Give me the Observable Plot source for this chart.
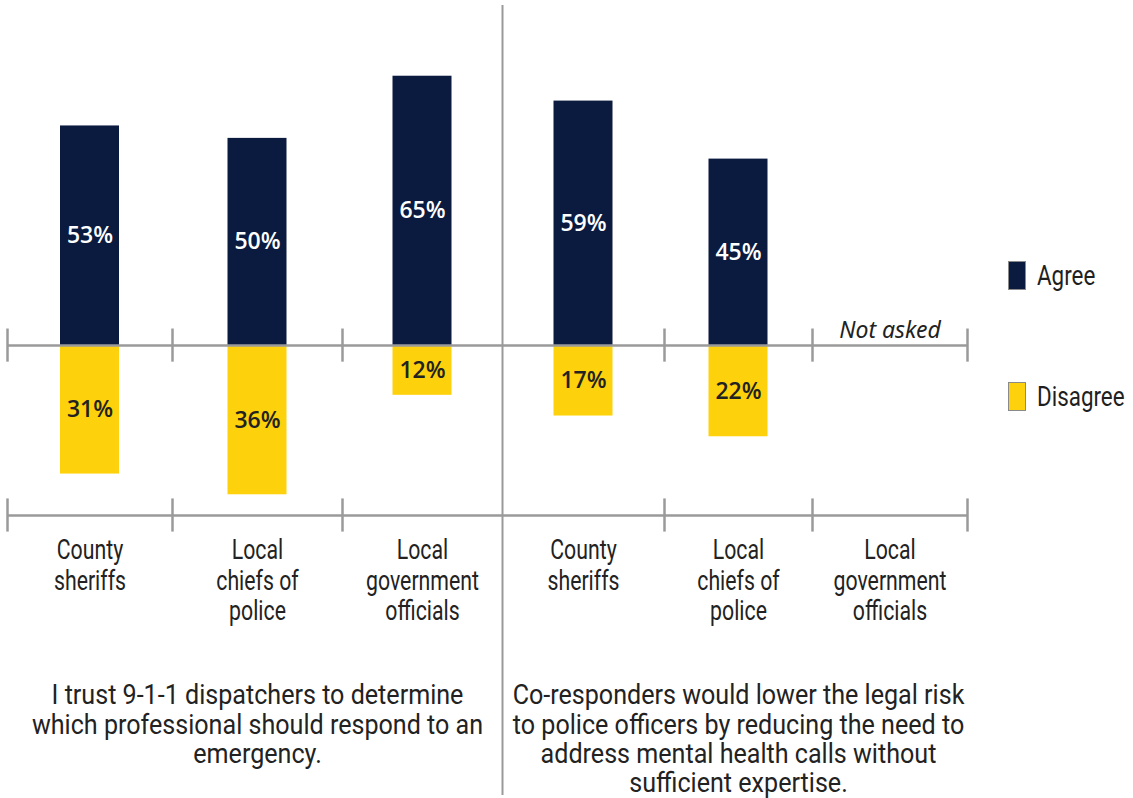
<!DOCTYPE html>
<html>
<head>
<meta charset="utf-8">
<script src="https://cdn.jsdelivr.net/npm/d3@7"></script>
<script src="https://cdn.jsdelivr.net/npm/@observablehq/plot@0.6"></script>
<style>
  html, body { margin: 0; padding: 0; background: #fff; }
  #wrap { position: relative; width: 1133px; height: 798px; overflow: hidden; }
  .legend { position: absolute; left: 1008px; display: flex; align-items: center; color: #1f1f1f; font-size: 28px; font-family: Roboto, sans-serif; }
  .legend .sw { width: 18px; height: 29px; border: 1px solid #8a8a8a; box-sizing: border-box; margin-right: 11px; flex: none; }
  .legend span { display: inline-block; transform: scaleX(0.8); transform-origin: left center; white-space: nowrap; }
</style>
</head>
<body>
<div id="wrap"></div>
<script>
// ---- data ----
const groups = ["County\nsheriffs", "Local\nchiefs of\npolice", "Local\ngovernment\nofficials"];
const statements = [
  "I trust 9-1-1 dispatchers to determine\nwhich professional should respond to an\nemergency.",
  "Co-responders would lower the legal risk\nto police officers by reducing the need to\naddress mental health calls without\nsufficient expertise."
];
const agree    = [53, 50, 65, 59, 45, null];
const disagree = [31, 36, 12, 17, 22, null];
const seriesNames = ["Agree", "Disagree"];
const notAskedLabel = "Not asked";

// ---- styles ----
const NAVY = "#0a1b3f";
const YELLOW = "#fdd20c";
const GRAY = "#9a9a9a";
const TEXT = "#222";

const rows = agree.map((a, i) => ({slot: i, center: i + 0.5, panel: Math.floor(i / 3), group: groups[i % 3], agree: a, disagree: disagree[i]}));
const asked = rows.filter(d => d.agree != null);
const notAsked = rows.filter(d => d.agree == null);
const bounds = d3.range(0, rows.length + 1);
const panelCenters = statements.map((s, i) => ({x: i * 3 + 1.5, text: s}));
const yBottom = -41;

const chart = Plot.plot({
  width: 1133,
  height: 798,
  marginLeft: 7,
  marginRight: 166,
  marginTop: 55,
  marginBottom: 283,
  x: {type: "linear", domain: bounds, range: [7, 172, 342, 502, 664, 812, 967], axis: null},
  y: {domain: [yBottom, 70], axis: null},
  marks: [
    // bars
    Plot.rectY(asked, {x1: "center", x2: "center", y1: 0, y2: "agree", fill: NAVY, insetLeft: -29.5, insetRight: -29.5}),
    Plot.rectY(asked, {x1: "center", x2: "center", y1: 0, y2: d => -d.disagree, fill: YELLOW, insetLeft: -29.5, insetRight: -29.5}),
    // zero axis with ticks
    Plot.ruleY([0], {x1: 0, x2: rows.length, stroke: GRAY, strokeWidth: 2.5}),
    Plot.ruleX(bounds.filter(b => b !== 3), {y1: -4, y2: 4, stroke: GRAY, strokeWidth: 2.5}),
    // bottom category axis with ticks
    Plot.ruleY([yBottom], {x1: 0, x2: rows.length, stroke: GRAY, strokeWidth: 2.5}),
    Plot.ruleX(bounds.filter(b => b !== 3), {y1: yBottom - 4, y2: yBottom + 4, stroke: GRAY, strokeWidth: 2.5}),
    // panel divider
    Plot.ruleX([3], {stroke: GRAY, strokeWidth: 2, insetTop: -50, insetBottom: -280}),
    // value labels
    Plot.text(asked, {x: "center", y: d => d.agree / 2, text: d => d.agree + "%", fill: "#fff", fontSize: 23, fontWeight: 600, fontFamily: "Open Sans, Noto Sans, sans-serif"}),
    Plot.text(asked, {x: "center", y: d => -d.disagree / 2, text: d => d.disagree + "%", fill: TEXT, fontSize: 23, fontWeight: 600, fontFamily: "Open Sans, Noto Sans, sans-serif"}),
    // not asked
    Plot.text(notAsked, {x: "center", y: 0, text: () => notAskedLabel, dy: -8, lineAnchor: "bottom", fontSize: 23, fontStyle: "italic", fill: TEXT, fontFamily: "Noto Sans, Open Sans, sans-serif"}),
    // category labels
    Plot.text(rows, {x: "center", text: "group", frameAnchor: "bottom", dy: 22, lineAnchor: "top", lineHeight: 1.09, fontSize: 28, fill: TEXT, fontFamily: "Roboto, sans-serif"}),
    // statement captions
    Plot.text(panelCenters, {x: "x", text: "text", frameAnchor: "bottom", dy: 168, lineAnchor: "top", lineHeight: 1.085, fontSize: 27, fill: TEXT, fontFamily: "Roboto, sans-serif"})
  ]
});
document.getElementById("wrap").appendChild(chart);

// narrow the condensed-style texts horizontally (category labels, captions)
const textGroups = chart.querySelectorAll('g[aria-label="text"]');
function squeeze(g, s) {
  if (!g) return;
  g.querySelectorAll("text").forEach(t => {
    const x = +(t.getAttribute("x") || 0);
    const tr = t.getAttribute("transform") || "";
    t.setAttribute("transform", `${tr} translate(${x},0) scale(${s},1) translate(${-x},0)`);
  });
}
squeeze(textGroups[3], 0.76);
squeeze(textGroups[4], 0.93);

// legend
const legendColors = [NAVY, YELLOW];
const legendTops = [259, 380];
seriesNames.forEach((name, i) => {
  const item = document.createElement("div");
  item.className = "legend";
  item.style.top = legendTops[i] + "px";
  item.innerHTML = `<div class="sw" style="background:${legendColors[i]}"></div><span>${name}</span>`;
  document.getElementById("wrap").appendChild(item);
});
</script>
</body>
</html>
